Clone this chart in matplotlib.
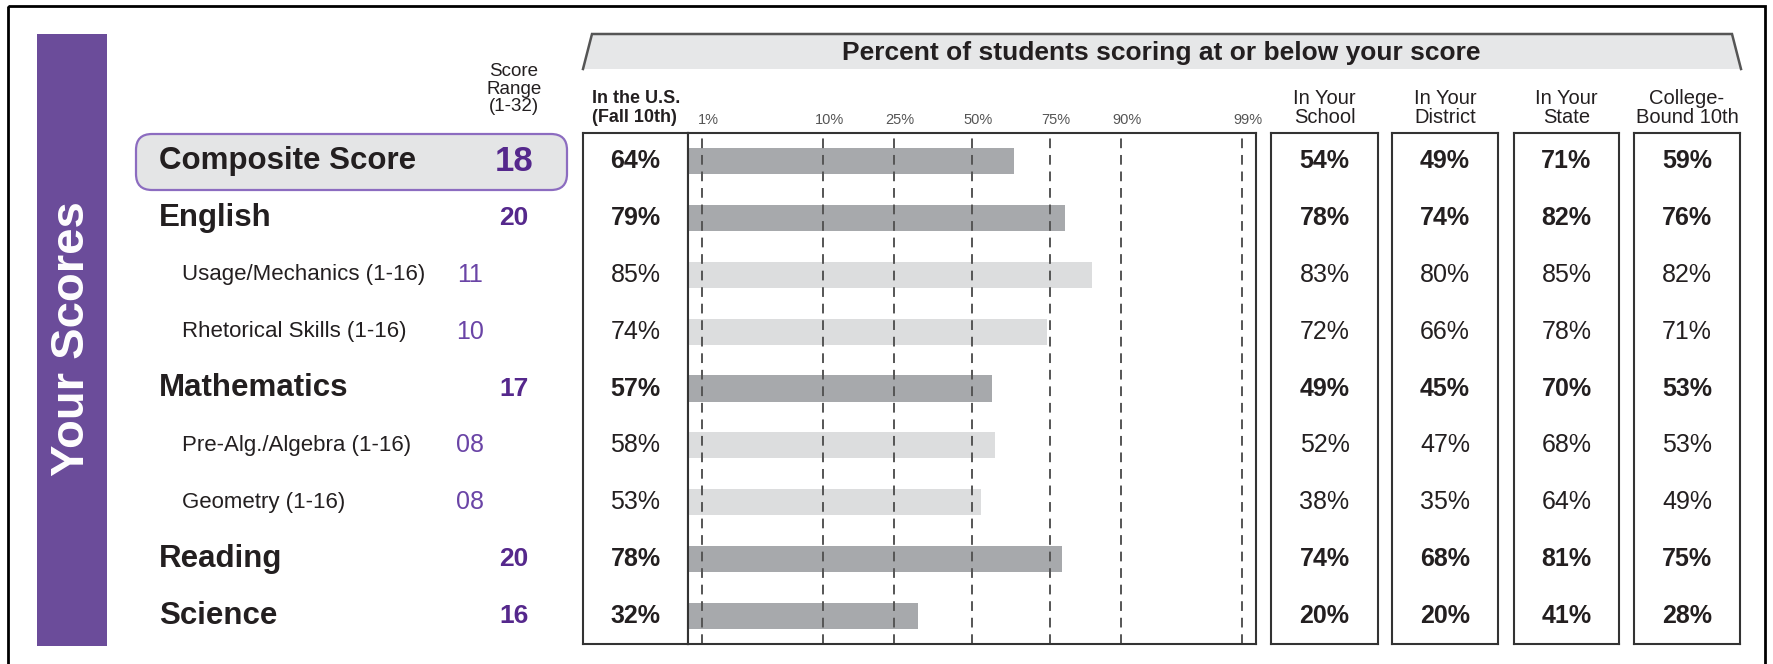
import numpy as np
import matplotlib.pyplot as plt
import matplotlib.transforms as mtransforms
from matplotlib.patches import FancyBboxPatch, Rectangle, Polygon
from statistics import NormalDist

# data
labels = ["Composite Score", "English", "Usage/Mechanics (1-16)", "Rhetorical Skills (1-16)",
          "Mathematics", "Pre-Alg./Algebra (1-16)", "Geometry (1-16)", "Reading", "Science"]
is_main = [True, True, False, False, True, False, False, True, True]
scores = ["18", "20", "11", "10", "17", "08", "08", "20", "16"]
us_pct = [64, 79, 85, 74, 57, 58, 53, 78, 32]
school_pct = [54, 78, 83, 72, 49, 52, 38, 74, 20]
district_pct = [49, 74, 80, 66, 45, 47, 35, 68, 20]
state_pct = [71, 82, 85, 78, 70, 68, 64, 81, 41]
college_pct = [59, 76, 82, 71, 53, 53, 49, 75, 28]
col_headers = ["In Your\nSchool", "In Your\nDistrict", "In Your\nState", "College-\nBound 10th"]
pct_ticks = [1, 10, 25, 50, 75, 90, 99]

NARROW = ["Liberation Sans Narrow", "Liberation Sans"]
SANS = ["Liberation Sans", "DejaVu Sans"]
INK = "#231f20"
PURPLE = "#6b4c9a"
SCORE_PURPLE = "#55288c"
SUB_PURPLE = "#6a44a6"
DARK_BAR = "#a7a9ac"
LIGHT_BAR = "#dcddde"
BOX_EDGE = "#333333"

W, H = 1773, 664
fig = plt.figure(figsize=(W / 100, H / 100), dpi=100)
n = len(labels)
TOP, BOT = 133, 644


def px_axes(x0, y0, x1, y1):
    return fig.add_axes([x0 / W, 1 - y1 / H, (x1 - x0) / W, (y1 - y0) / H])


# background / decoration layer in pixel coordinates
bg = fig.add_axes([0, 0, 1, 1])
bg.set_xlim(0, W)
bg.set_ylim(H, 0)
bg.axis("off")

bg.add_patch(Rectangle((8, 6), 1757, 720, fill=False, ec="black", lw=2))
bg.add_patch(Rectangle((37, 34), 70, 612, fc=PURPLE, ec="none"))
bg.text(72, 339, "Your Scores", rotation=90, color="white", ha="center", va="center",
        family=NARROW, weight="bold", fontsize=34)

# banner
bg.add_patch(Polygon([(583, 69), (592, 34), (1732, 34), (1741, 69)], closed=True,
                     fc="#e6e7e8", ec="none"))
bg.plot([583, 592, 1732, 1741], [69, 34, 34, 69], color="#555555", lw=1.8,
        solid_joinstyle="miter")
bg.text(1161, 53, "Percent of students scoring at or below your score", ha="center",
        va="center", family=SANS, weight="bold", fontsize=19, color=INK)

# composite highlight
bg.add_patch(FancyBboxPatch((136, 134), 431, 56, boxstyle="round,pad=0,rounding_size=16",
                            fc="#e4e5e6", ec="#8c6cc0", lw=1.6))

bg.text(514, 89, "Score\nRange\n(1-32)", ha="center", va="center", family=NARROW,
        fontsize=13.5, linespacing=1.05, color=INK)
bg.text(592, 108, "In the U.S.\n(Fall 10th)", ha="left", va="center", family=NARROW,
        weight="bold", fontsize=13, linespacing=1.15, color=INK)

# label column
ax_lab = px_axes(110, TOP, 580, BOT)
ax_lab.set_xlim(110, 580)
ax_lab.set_ylim(n - 0.5, -0.5)
ax_lab.axis("off")
for i, (lab, main, sc) in enumerate(zip(labels, is_main, scores)):
    if main:
        ax_lab.text(159, i, lab, ha="left", va="center", family=NARROW, weight="bold",
                    fontsize=22.5, color=INK)
        ax_lab.text(514, i, sc, ha="center", va="center", family=SANS, weight="bold",
                    fontsize=25 if i == 0 else 19, color=SCORE_PURPLE)
    else:
        ax_lab.text(182, i, lab, ha="left", va="center", family=NARROW,
                    fontsize=16, color=INK)
        ax_lab.text(470, i, sc, ha="center", va="center", family=SANS,
                    fontsize=18, color=SUB_PURPLE)


def value_box(x0, x1, values):
    ax = px_axes(x0, TOP, x1, BOT)
    ax.set_xlim(0, 1)
    ax.set_ylim(n - 0.5, -0.5)
    ax.set_xticks([])
    ax.set_yticks([])
    for sp in ax.spines.values():
        sp.set_color(BOX_EDGE)
        sp.set_linewidth(1.5)
    for i, (v, main) in enumerate(zip(values, is_main)):
        ax.text(0.5, i, f"{v}%", ha="center", va="center", family=SANS,
                weight="bold" if main else "normal", fontsize=18, color=INK)
    return ax


value_box(583, 688, us_pct)

# bar area on a normal-percentile (probit) scale
nd = NormalDist()
_inv = np.vectorize(lambda p: nd.inv_cdf(p), otypes=[float])
_cdf = np.vectorize(lambda z: nd.cdf(z), otypes=[float])


def forward(v):
    p = np.clip(np.asarray(v, dtype=float) / 100, 1e-9, 1 - 1e-9)
    return _inv(p)


def inverse(z):
    return _cdf(np.asarray(z, dtype=float)) * 100


ax = px_axes(688, TOP, 1256, BOT)
ax.set_xscale("function", functions=(forward, inverse))
lo, hi = nd.cdf(-2.45) * 100, nd.cdf(2.45) * 100
ax.set_xlim(lo, hi)
ax.set_ylim(n - 0.5, -0.5)
y = np.arange(n)
ax.barh(y, np.array(us_pct) - lo, left=lo, height=0.46,
        color=[DARK_BAR if m else LIGHT_BAR for m in is_main], zorder=1)
for t in pct_ticks:
    ax.axvline(t, color="#555555", lw=1.4, ls=(0, (5, 3.5)), zorder=2)
ax.set_xticks(pct_ticks, labels=[f"{t}%" for t in pct_ticks])
ax.xaxis.set_minor_locator(plt.NullLocator())
ax.xaxis.tick_top()
ax.tick_params(axis="x", length=0, pad=4, labelsize=10.5, labelcolor="#555555")
shift = mtransforms.ScaledTranslation(6 / 100, 0, fig.dpi_scale_trans)
for lbl in ax.get_xticklabels():
    lbl.set_family(NARROW)
    lbl.set_transform(lbl.get_transform() + shift)
ax.set_yticks([])
for sp in ax.spines.values():
    sp.set_color(BOX_EDGE)
    sp.set_linewidth(1.5)

# comparison columns
boxes = [(1271, 1378), (1392, 1498), (1514, 1619), (1634, 1740)]
for (x0, x1), vals, head in zip(boxes, [school_pct, district_pct, state_pct, college_pct],
                                col_headers):
    value_box(x0, x1, vals)
    bg.text((x0 + x1) / 2, 108, head, ha="center", va="center", family=NARROW,
            fontsize=14.5, linespacing=1.05, color=INK)

fig.savefig("out.png", dpi=100)
